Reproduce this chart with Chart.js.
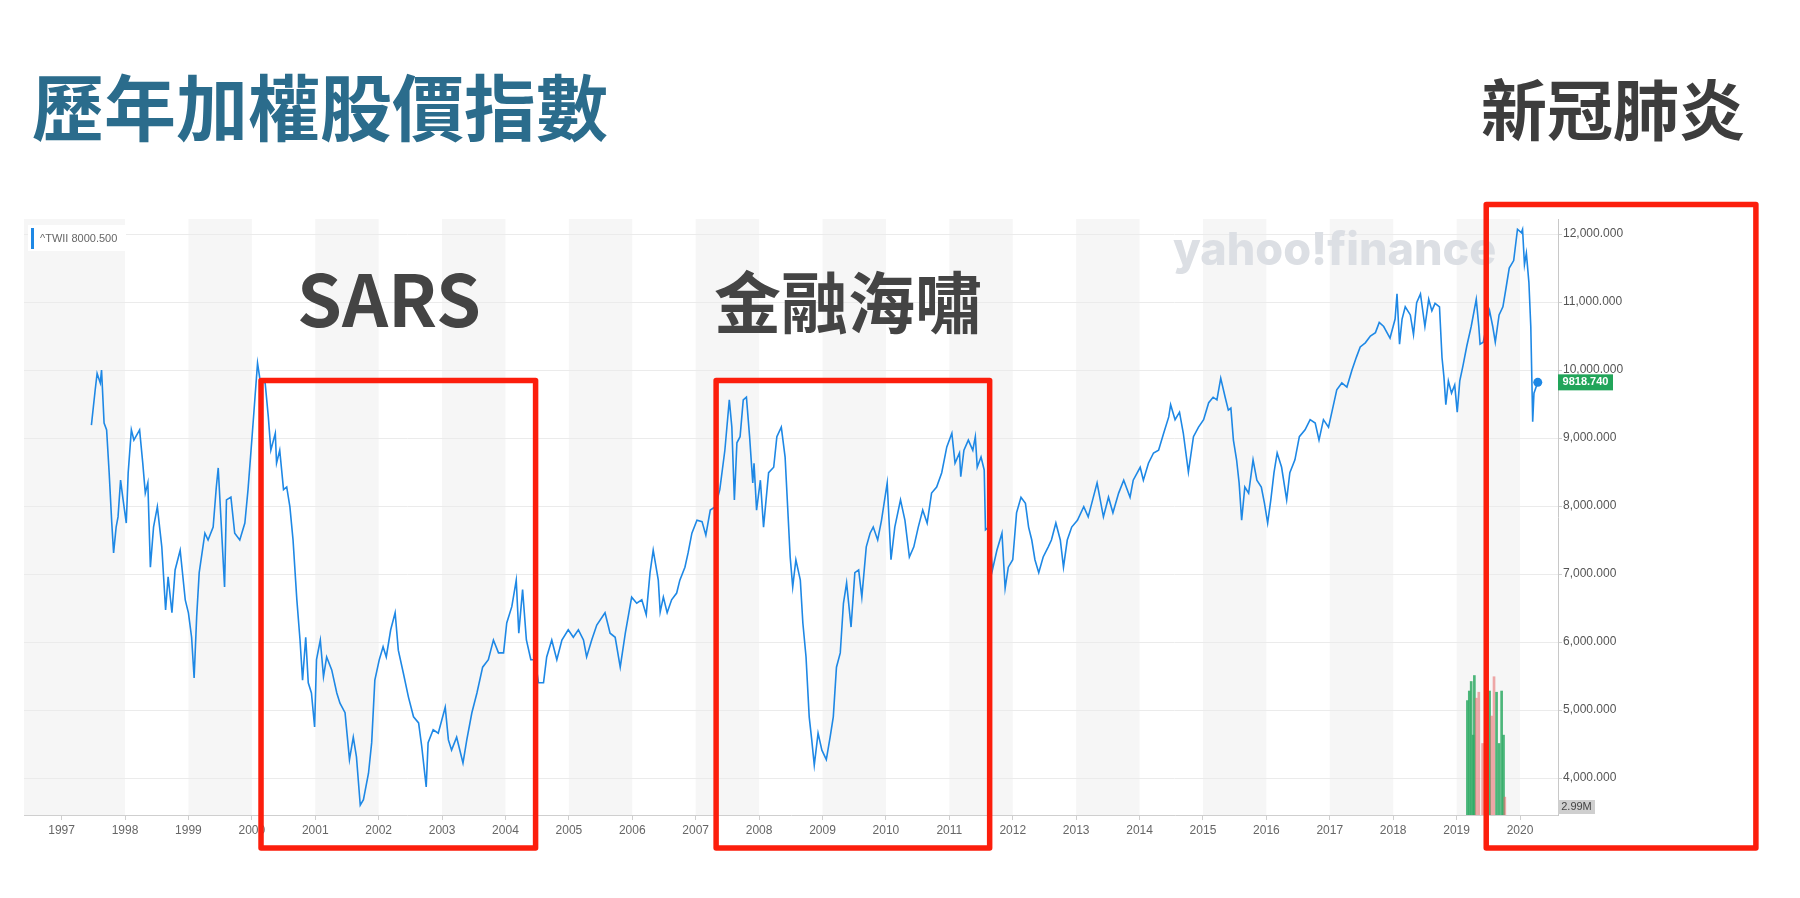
<!DOCTYPE html>
<html>
<head>
<meta charset="utf-8">
<script src="https://cdn.jsdelivr.net/npm/chart.js@4"></script>
<style>
  body { margin: 0; background: #fff; }
  #wrap { position: relative; width: 1800px; height: 898px; overflow: hidden; }
  .t { position: absolute; font-family: "Noto Sans CJK TC", "Noto Sans", sans-serif; font-weight: 700; line-height: 1; white-space: nowrap; }
</style>
</head>
<body>
<div id="wrap">
  <canvas id="myChart" width="1800" height="898"></canvas>
  <div class="t" style="left:32px;top:68px;font-size:72px;color:#2b6c8c;">歷年加權股價指數</div>
  <div class="t" style="right:55px;top:73px;font-size:66px;color:#3d3d3d;">新冠肺炎</div>
  <div class="t" style="left:239px;width:300px;text-align:center;top:260px;font-size:72px;color:#444;">SARS</div>
  <div class="t" style="left:698px;width:300px;text-align:center;top:265px;font-size:67px;color:#444;">金融海嘯</div>
</div>
<script>
// TAIEX (^TWII) weekly-ish closes
const weeks = [
  1997.47, 1997.53, 1997.56, 1997.61, 1997.63, 1997.67, 1997.71, 1997.75, 1997.79, 1997.82, 1997.86, 1997.89, 1997.93, 1997.97,
  1998.02, 1998.05, 1998.10, 1998.14, 1998.23, 1998.28, 1998.32, 1998.36, 1998.40, 1998.45, 1998.51, 1998.58, 1998.64, 1998.68,
  1998.74, 1998.79, 1998.87, 1998.95, 1999.00, 1999.05, 1999.09, 1999.13, 1999.17, 1999.26, 1999.31, 1999.39, 1999.44, 1999.47,
  1999.52, 1999.57, 1999.60, 1999.67, 1999.73, 1999.81, 1999.89, 1999.94, 2000.00, 2000.05, 2000.09, 2000.13, 2000.21, 2000.26,
  2000.30, 2000.37, 2000.39, 2000.44, 2000.50, 2000.55, 2000.60, 2000.65, 2000.71, 2000.76, 2000.80, 2000.85, 2000.89, 2000.94,
  2000.99, 2001.02, 2001.08, 2001.13, 2001.18, 2001.26, 2001.34, 2001.39, 2001.47, 2001.54, 2001.60, 2001.65, 2001.71, 2001.76,
  2001.84, 2001.89, 2001.94, 2002.01, 2002.07, 2002.12, 2002.19, 2002.26, 2002.31, 2002.39, 2002.47, 2002.55, 2002.63, 2002.68,
  2002.75, 2002.78, 2002.86, 2002.94, 2003.05, 2003.10, 2003.15, 2003.23, 2003.33, 2003.39, 2003.47, 2003.55, 2003.64, 2003.73,
  2003.81, 2003.89, 2003.97, 2004.02, 2004.10, 2004.17, 2004.21, 2004.27, 2004.33, 2004.40, 2004.47, 2004.52, 2004.60, 2004.65,
  2004.73, 2004.81, 2004.89, 2004.99, 2005.07, 2005.15, 2005.23, 2005.28, 2005.36, 2005.44, 2005.57, 2005.65, 2005.73, 2005.81,
  2005.89, 2005.99, 2006.07, 2006.15, 2006.22, 2006.28, 2006.33, 2006.41, 2006.44, 2006.49, 2006.55, 2006.62, 2006.70, 2006.75,
  2006.83, 2006.88, 2006.94, 2007.02, 2007.10, 2007.16, 2007.23, 2007.31, 2007.38, 2007.46, 2007.53, 2007.57, 2007.61, 2007.65,
  2007.70, 2007.75, 2007.80, 2007.85, 2007.90, 2007.92, 2007.96, 2008.02, 2008.07, 2008.15, 2008.23, 2008.28, 2008.35, 2008.41,
  2008.45, 2008.49, 2008.53, 2008.58, 2008.65, 2008.69, 2008.74, 2008.79, 2008.83, 2008.87, 2008.93, 2008.99, 2009.06, 2009.12,
  2009.17, 2009.22, 2009.28, 2009.33, 2009.38, 2009.45, 2009.51, 2009.57, 2009.62, 2009.69, 2009.75, 2009.80, 2009.87, 2009.93,
  2010.02, 2010.08, 2010.14, 2010.23, 2010.30, 2010.37, 2010.44, 2010.51, 2010.58, 2010.65, 2010.72, 2010.80, 2010.88, 2010.96,
  2011.04, 2011.09, 2011.16, 2011.18, 2011.23, 2011.30, 2011.37, 2011.41, 2011.44, 2011.50, 2011.55, 2011.57, 2011.62, 2011.68,
  2011.75, 2011.83, 2011.88, 2011.93, 2012.00, 2012.06, 2012.13, 2012.20, 2012.25, 2012.30, 2012.35, 2012.41, 2012.48, 2012.56,
  2012.61, 2012.68, 2012.75, 2012.80, 2012.86, 2012.93, 2013.02, 2013.12, 2013.19, 2013.26, 2013.33, 2013.43, 2013.51, 2013.58,
  2013.67, 2013.75, 2013.85, 2013.90, 2014.01, 2014.06, 2014.14, 2014.22, 2014.30, 2014.38, 2014.46, 2014.49, 2014.56, 2014.63,
  2014.69, 2014.77, 2014.85, 2014.93, 2015.01, 2015.09, 2015.16, 2015.22, 2015.28, 2015.35, 2015.40, 2015.44, 2015.48, 2015.53,
  2015.57, 2015.61, 2015.66, 2015.72, 2015.79, 2015.85, 2015.92, 2015.97, 2016.02, 2016.07, 2016.12, 2016.17, 2016.24, 2016.32,
  2016.37, 2016.45, 2016.52, 2016.61, 2016.69, 2016.77, 2016.83, 2016.90, 2016.98, 2017.03, 2017.11, 2017.19, 2017.27, 2017.35,
  2017.42, 2017.48, 2017.56, 2017.64, 2017.72, 2017.78, 2017.85, 2017.95, 2018.03, 2018.06, 2018.10, 2018.14, 2018.19, 2018.27,
  2018.32, 2018.37, 2018.43, 2018.50, 2018.56, 2018.61, 2018.66, 2018.73, 2018.77, 2018.80, 2018.83, 2018.87, 2018.92, 2018.97,
  2019.01, 2019.05, 2019.10, 2019.16, 2019.23, 2019.31, 2019.35, 2019.37, 2019.42, 2019.52, 2019.57, 2019.61, 2019.67, 2019.73,
  2019.78, 2019.83, 2019.90, 2019.96, 2020.02, 2020.04, 2020.07, 2020.10, 2020.14, 2020.17, 2020.20, 2020.22, 2020.28
];
const closes = [
  9190, 9710, 9950, 9810, 10000, 9220, 9120, 8490, 7770, 7310, 7690, 7840, 8380, 8090,
  7750, 8490, 9120, 8970, 9120, 8630, 8190, 8340, 7100, 7690, 7990, 7400, 6470, 6960,
  6430, 7060, 7350, 6620, 6430, 6070, 5470, 6370, 7020, 7600, 7500, 7690, 8280, 8560,
  7690, 6810, 8090, 8130, 7600, 7500, 7750, 8240, 8970, 9600, 10100, 9850, 9810, 9310,
  8820, 9070, 8630, 8820, 8240, 8280, 7990, 7500, 6620, 6030, 5440, 6070, 5400, 5250,
  4750, 5740, 6030, 5490, 5780, 5590, 5250, 5100, 4960, 4270, 4600, 4310, 3600, 3680,
  4070, 4520, 5440, 5740, 5930, 5780, 6180, 6430, 5880, 5540, 5190, 4900, 4810, 4460,
  3870, 4520, 4710, 4660, 5040, 4560, 4410, 4600, 4220, 4560, 4960, 5250, 5630, 5740,
  6030, 5840, 5840, 6280, 6520, 6910, 6130, 6770, 6030, 5740, 5740, 5400, 5400, 5780,
  6030, 5740, 6030, 6180, 6070, 6180, 6030, 5780, 6030, 6250, 6430, 6130, 6070, 5630,
  6130, 6660, 6570, 6620, 6400, 7020, 7350, 6910, 6440, 6660, 6430, 6620, 6720, 6910,
  7100, 7310, 7600, 7790, 7770, 7570, 7940, 7990, 8240, 8820, 9560, 9160, 8090, 8930,
  9020, 9560, 9600, 9020, 8340, 8630, 7940, 8380, 7690, 8490, 8570, 9020, 9160, 8720,
  7990, 7250, 6810, 7210, 6910, 6280, 5780, 4900, 4560, 4190, 4660, 4410, 4270, 4600,
  4900, 5630, 5840, 6570, 6870, 6220, 7020, 7060, 6660, 7400, 7600, 7690, 7500, 7790,
  8340, 7210, 7690, 8090, 7790, 7250, 7400, 7690, 7940, 7750, 8190, 8280, 8490, 8870,
  9070, 8630, 8780, 8430, 8820, 8970, 8820, 9020, 8570, 8720, 8530, 7650, 7690, 7060,
  7350, 7600, 6790, 7100, 7210, 7900, 8130, 8040, 7690, 7500, 7210, 7020, 7250, 7400,
  7500, 7750, 7500, 7100, 7500, 7690, 7790, 7990, 7840, 8090, 8340, 7840, 8130, 7900,
  8190, 8380, 8130, 8380, 8570, 8380, 8630, 8780, 8820, 9070, 9310, 9490, 9270, 9380,
  9070, 8500, 9020, 9160, 9270, 9520, 9600, 9560, 9880, 9600, 9410, 9440, 8970, 8680,
  8340, 7790, 8280, 8190, 8680, 8380, 8280, 8040, 7750, 8090, 8490, 8780, 8570, 8090,
  8490, 8680, 9020, 9120, 9270, 9220, 8970, 9270, 9160, 9370, 9710, 9810, 9750, 10000,
  10190, 10340, 10400, 10500, 10550, 10700, 10640, 10470, 10750, 11120, 10380, 10750, 10930, 10810,
  10520, 10990, 11120, 10640, 11040, 10870, 10980, 10930, 10180, 9900, 9490, 9840, 9660, 9780,
  9380, 9840, 10060, 10350, 10640, 11040, 10640, 10380, 10410, 10870, 10640, 10410, 10810, 10930,
  11210, 11500, 11610, 12070, 12020, 12070, 11550, 11720, 11290, 10640, 9240, 9660, 9818.74
];

// volume bars (millions) only shown near 2019
const volWeeks = [2019.17, 2019.20, 2019.23, 2019.26, 2019.28, 2019.31, 2019.35, 2019.41, 2019.52, 2019.55, 2019.59, 2019.63, 2019.67, 2019.71, 2019.74, 2019.76];
const volumes = [9.6, 10.4, 11.2, 6.7, 11.7, 9.8, 10.3, 6.0, 10.4, 8.3, 11.6, 10.3, 6.0, 10.4, 6.7, 1.5];
const volUp = [1, 1, 1, 1, 1, 0, 0, 0, 1, 0, 0, 1, 1, 1, 1, 0];

const yearTicks = [1997, 1998, 1999, 2000, 2001, 2002, 2003, 2004, 2005, 2006, 2007, 2008,
  2009, 2010, 2011, 2012, 2013, 2014, 2015, 2016, 2017, 2018, 2019, 2020];
const priceTicks = [4000, 5000, 6000, 7000, 8000, 9000, 10000, 11000, 12000];

// red highlight boxes: year range and top value
const highlights = [
  { from: 2000.145, to: 2004.475, top: 9846 },
  { from: 2007.322, to: 2011.636, top: 9846 },
  { from: 2019.467, to: 2023.72, top: 12434 }
];
const highlightBottom = 2971;

const lineBlue = '#1e88e5';

const bandsPlugin = {
  id: 'bands',
  beforeDraw(chart) {
    const { ctx, chartArea: a, scales: { x } } = chart;
    ctx.save();
    ctx.fillStyle = '#f6f6f6';
    // odd years are shaded, the first band runs to the left edge
    for (let yr = 1997; yr <= 2019; yr += 2) {
      const x0 = yr === 1997 ? a.left : x.getPixelForValue(yr);
      const x1 = Math.min(a.right, x.getPixelForValue(yr + 1));
      ctx.fillRect(x0, a.top, x1 - x0, a.bottom - a.top);
    }
    ctx.restore();
  },
  beforeDatasetsDraw(chart) {
    const { ctx } = chart;
    ctx.save();
    ctx.font = '800 45px Inter';
    ctx.fillStyle = '#dcdfe4';
    ctx.textBaseline = 'alphabetic';
    ctx.fillText('yahoo!finance', 1173, 265);
    ctx.restore();
  }
};

const overlayPlugin = {
  id: 'overlay',
  afterDraw(chart) {
    const { ctx, chartArea: a, scales: { x, y } } = chart;
    ctx.save();

    // legend chip top-left
    ctx.fillStyle = '#fff';
    ctx.fillRect(a.left + 4, a.top + 6, 98, 26);
    ctx.fillStyle = lineBlue;
    ctx.fillRect(a.left + 7, a.top + 9, 3, 21);
    ctx.fillStyle = '#666';
    ctx.font = '11px "Liberation Sans"';
    ctx.textBaseline = 'middle';
    ctx.fillText('^TWII 8000.500', a.left + 16, a.top + 20);

    // last price tag
    const last = closes[closes.length - 1];
    const ly = y.getPixelForValue(last);
    ctx.fillStyle = '#22a55a';
    ctx.fillRect(a.right, ly - 8, 55, 16);
    ctx.fillStyle = '#fff';
    ctx.font = 'bold 11px "Liberation Sans"';
    ctx.textAlign = 'center';
    ctx.fillText(last.toFixed(3), a.right + 27.5, ly);

    // volume tag
    ctx.fillStyle = '#cfcfcf';
    ctx.fillRect(a.right, a.bottom - 15, 37, 14);
    ctx.fillStyle = '#444';
    ctx.font = '11px "Liberation Sans"';
    ctx.fillText('2.99M', a.right + 18.5, a.bottom - 8);

    // red boxes
    ctx.strokeStyle = '#fc1e0c';
    ctx.lineWidth = 5.5;
    ctx.lineJoin = 'round';
    highlights.forEach(h => {
      const x0 = x.getPixelForValue(h.from);
      const x1 = x.getPixelForValue(h.to);
      const y0 = y.getPixelForValue(h.top);
      const y1 = y.getPixelForValue(highlightBottom);
      ctx.strokeRect(x0, y0, x1 - x0, y1 - y0);
    });
    ctx.restore();
  }
};

function getChart() {
  const ctx = document.getElementById('myChart');
  const lineData = weeks.map((w, i) => ({ x: w, y: closes[i] }));
  const volData = volWeeks.map((w, i) => ({ x: w, y: volumes[i] }));

  new Chart(ctx, {
    type: 'line',
    data: {
      datasets: [{
        type: 'line',
        label: '^TWII',
        data: lineData,
        borderColor: lineBlue,
        borderWidth: 1.6,
        pointRadius: c => (c.dataIndex === closes.length - 1 ? 4.5 : 0),
        pointBackgroundColor: lineBlue,
        pointBorderWidth: 0,
        tension: 0,
        yAxisID: 'y',
        order: 1
      }, {
        type: 'bar',
        label: 'Volume',
        data: volData,
        backgroundColor: volUp.map(u => (u ? 'rgba(46,170,100,0.85)' : 'rgba(232,100,100,0.55)')),
        barThickness: 2,
        yAxisID: 'yv',
        order: 2
      }]
    },
    options: {
      responsive: false,
      animation: false,
      devicePixelRatio: 1,
      layout: { padding: { left: 24, top: 219, right: 0, bottom: 53 } },
      plugins: { legend: { display: false }, tooltip: { enabled: false } },
      scales: {
        x: {
          type: 'linear',
          offset: false,
          min: 1996.407,
          max: 2020.599,
          afterBuildTicks: ax => { ax.ticks = yearTicks.map(v => ({ value: v })); },
          afterFit: ax => { ax.height = 30; },
          grid: { drawOnChartArea: false, tickLength: 5, color: '#cfcfcf', offset: false },
          border: { color: '#cfcfcf' },
          ticks: {
            autoSkip: false, maxRotation: 0, padding: 3,
            color: '#666', font: { family: 'Liberation Sans', size: 12 },
            callback: v => String(v)
          }
        },
        y: {
          position: 'right',
          min: 3456,
          max: 12221,
          afterBuildTicks: ax => { ax.ticks = priceTicks.map(v => ({ value: v })); },
          afterFit: ax => { ax.width = 242; },
          grid: { color: '#ebebeb', tickLength: 4, tickColor: '#d0d0d0' },
          border: { color: '#c8c8c8' },
          ticks: {
            padding: 1, color: '#555', font: { family: 'Liberation Sans', size: 12 },
            callback: v => v.toLocaleString('en-US', { minimumFractionDigits: 3 })
          }
        },
        yv: { display: false, min: 0, max: 50 }
      }
    },
    plugins: [bandsPlugin, overlayPlugin]
  });
}

getChart();
</script>
</body>
</html>
